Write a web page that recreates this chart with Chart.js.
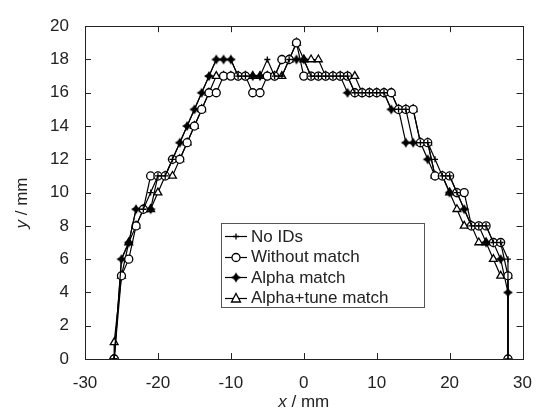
<!DOCTYPE html>
<html>
<head>
<meta charset="utf-8">
<script src="https://cdn.jsdelivr.net/npm/chart.js@4.4.0/dist/chart.umd.min.js"></script>
<style>
  html, body { margin: 0; padding: 0; background: #fff; }
  #wrap { width: 546px; height: 414px; }
</style>
</head>
<body>
<div id="wrap"><canvas id="profile-chart" width="546" height="414"></canvas></div>
<script>
// x positions (mm), shared by all four series; ends are doubled for the drop to zero
const xVals = [-26, -26, -25, -24, -23, -22, -21, -20, -19, -18, -17, -16, -15, -14, -13, -12, -11, -10, -9, -8,
  -7, -6, -5, -4, -3, -2, -1, 0, 1, 2, 3, 4, 5, 6, 7, 8, 9, 10, 11, 12,
  13, 14, 15, 16, 17, 18, 19, 20, 21, 22, 23, 24, 25, 26, 27, 28, 28];

// y values (mm)
const noIds = [0, 0, 6, 7, 9, 9, 10, 11, 11, 12, 13, 14, 15, 16, 17, 18, 18, 18, 17, 17,
  17, 17, 18, 17, 17, 18, 18, 18, 17, 17, 17, 17, 17, 17, 16, 16, 16, 16, 16, 15,
  15, 15, 13, 13, 13, 12, 11, 11, 10, 9, 8, 8, 8, 7, 7, 6, 0];
const withoutMatch = [0, 0, 5, 6, 8, 9, 11, 11, 11, 12, 12, 13, 14, 15, 16, 16, 17, 17, 17, 17,
  16, 16, 17, 17, 18, 18, 19, 17, 17, 17, 17, 17, 17, 17, 16, 16, 16, 16, 16, 16,
  15, 15, 15, 13, 13, 11, 11, 11, 10, 10, 8, 8, 8, 7, 7, 5, 0];
const alphaMatch = [0, 0, 6, 7, 9, 9, 9, 11, 11, 12, 13, 14, 15, 16, 17, 18, 18, 18, 17, 17,
  17, 17, 17, 17, 18, 18, 18, 18, 17, 17, 17, 17, 17, 16, 16, 16, 16, 16, 16, 15,
  15, 13, 13, 13, 12, 11, 11, 10, 10, 9, 8, 8, 7, 7, 6, 4, 0];
const alphaTune = [0, 1, 5, 7, 8, 9, 9, 10, 11, 11, 12, 13, 14, 15, 16, 17, 17, 17, 17, 17,
  17, 17, 17, 17, 17, 18, 19, 18, 18, 18, 17, 17, 17, 17, 17, 16, 16, 16, 16, 16,
  15, 15, 15, 13, 13, 11, 11, 10, 9, 8, 8, 7, 7, 6, 5, 5, 0];

const seriesNames = ["No IDs", "Without match", "Alpha match", "Alpha+tune match"];
const xTicks = [-30, -20, -10, 0, 10, 20, 30];
const yTicks = [0, 2, 4, 6, 8, 10, 12, 14, 16, 18, 20];

const FONT = "'Liberation Sans', Arial, sans-serif";

// filled four point star for the alpha match markers
function makeStar(r) {
  const c = document.createElement('canvas');
  c.width = c.height = r * 2 + 2;
  const g = c.getContext('2d');
  const m = r + 1, k = r * 0.38;
  g.fillStyle = '#000';
  g.beginPath();
  g.moveTo(m, m - r);
  g.lineTo(m + k, m - k);
  g.lineTo(m + r, m);
  g.lineTo(m + k, m + k);
  g.lineTo(m, m + r);
  g.lineTo(m - k, m + k);
  g.lineTo(m - r, m);
  g.lineTo(m - k, m - k);
  g.closePath();
  g.fill();
  return c;
}
const starImg = makeStar(5);

function toPoints(ys) {
  return xVals.map((x, i) => ({ x: x, y: ys[i] }));
}

function lineSet(label, ys, style, radius) {
  return {
    label: label,
    data: toPoints(ys),
    borderColor: '#000',
    borderWidth: 1.2,
    backgroundColor: '#fff',
    pointBorderColor: '#000',
    pointBackgroundColor: '#fff',
    pointStyle: style,
    pointRadius: radius,
    pointBorderWidth: 1.3,
    tension: 0,
    fill: false
  };
}

const datasets = [
  lineSet(seriesNames[0], noIds, 'cross', 3),
  lineSet(seriesNames[1], withoutMatch, 'circle', 4),
  lineSet(seriesNames[2], alphaMatch, starImg, 5),
  lineSet(seriesNames[3], alphaTune, 'triangle', 4.5)
];

function drawMarker(ctx, kind, cx, cy) {
  ctx.save();
  ctx.strokeStyle = '#000';
  ctx.fillStyle = '#fff';
  ctx.lineWidth = 1.3;
  if (kind === 0) {
    ctx.beginPath();
    ctx.moveTo(cx - 3, cy); ctx.lineTo(cx + 3, cy);
    ctx.moveTo(cx, cy - 3); ctx.lineTo(cx, cy + 3);
    ctx.stroke();
  } else if (kind === 1) {
    ctx.beginPath();
    ctx.arc(cx, cy, 4, 0, Math.PI * 2);
    ctx.fill(); ctx.stroke();
  } else if (kind === 2) {
    ctx.drawImage(starImg, cx - starImg.width / 2, cy - starImg.height / 2);
  } else {
    ctx.beginPath();
    ctx.moveTo(cx, cy - 5);
    ctx.lineTo(cx + 4.5, cy + 3.5);
    ctx.lineTo(cx - 4.5, cy + 3.5);
    ctx.closePath();
    ctx.fill(); ctx.stroke();
  }
  ctx.restore();
}

// frame, inward ticks, axis titles and the boxed legend
const framePlugin = {
  id: 'frame',
  afterDraw(chart) {
    const ctx = chart.ctx;
    const a = chart.chartArea;
    const xs = chart.scales.x, ys = chart.scales.y;
    ctx.save();
    ctx.strokeStyle = '#222';
    ctx.lineWidth = 1;
    ctx.strokeRect(Math.round(a.left) + 0.5, Math.round(a.top) + 0.5,
      Math.round(a.right - a.left), Math.round(a.bottom - a.top));
    ctx.beginPath();
    xTicks.forEach(v => {
      const p = Math.round(xs.getPixelForValue(v)) + 0.5;
      ctx.moveTo(p, a.bottom); ctx.lineTo(p, a.bottom - 6);
      ctx.moveTo(p, a.top); ctx.lineTo(p, a.top + 6);
    });
    yTicks.forEach(v => {
      const p = Math.round(ys.getPixelForValue(v)) + 0.5;
      ctx.moveTo(a.left, p); ctx.lineTo(a.left + 6, p);
      ctx.moveTo(a.right, p); ctx.lineTo(a.right - 6, p);
    });
    ctx.stroke();

    // axis titles
    ctx.fillStyle = '#222';
    ctx.textBaseline = 'middle';
    const midX = (a.left + a.right) / 2;
    ctx.font = 'italic 17px ' + FONT;
    const wx = ctx.measureText('x').width;
    ctx.font = '17px ' + FONT;
    const wr = ctx.measureText(' / mm').width;
    let sx = midX - (wx + wr) / 2;
    ctx.textAlign = 'left';
    ctx.font = 'italic 17px ' + FONT;
    ctx.fillText('x', sx, 402);
    ctx.font = '17px ' + FONT;
    ctx.fillText(' / mm', sx + wx, 402);

    ctx.save();
    ctx.translate(22, 203);
    ctx.rotate(-Math.PI / 2);
    ctx.font = 'italic 17px ' + FONT;
    const wy = ctx.measureText('y').width;
    ctx.font = '17px ' + FONT;
    sx = -(wy + wr) / 2;
    ctx.font = 'italic 17px ' + FONT;
    ctx.fillText('y', sx, 0);
    ctx.font = '17px ' + FONT;
    ctx.fillText(' / mm', sx + wy, 0);
    ctx.restore();

    // legend box
    const bx = 221, by = 223, bw = 203, bh = 84;
    ctx.fillStyle = '#fff';
    ctx.fillRect(bx, by, bw, bh);
    ctx.strokeStyle = '#555';
    ctx.strokeRect(bx + 0.5, by + 0.5, bw, bh);
    ctx.font = '17px ' + FONT;
    ctx.textAlign = 'left';
    seriesNames.forEach((name, i) => {
      const cy = by + 13 + i * 20.5;
      ctx.strokeStyle = '#000';
      ctx.lineWidth = 1.2;
      ctx.beginPath();
      ctx.moveTo(bx + 4, Math.round(cy) + 0.5);
      ctx.lineTo(bx + 26, Math.round(cy) + 0.5);
      ctx.stroke();
      drawMarker(ctx, i, bx + 15, Math.round(cy) + 0.5);
      ctx.fillStyle = '#222';
      ctx.fillText(name, bx + 30, cy + 1);
    });
    ctx.restore();
  }
};

const bgPlugin = {
  id: 'bg',
  beforeDraw(chart) {
    const ctx = chart.ctx;
    ctx.save();
    ctx.fillStyle = '#fff';
    ctx.fillRect(0, 0, chart.width, chart.height);
    ctx.restore();
  }
};

const config = {
  type: 'line',
  data: { datasets: datasets },
  options: {
    responsive: false,
    animation: false,
    layout: { padding: { top: 12, right: 21, left: 0, bottom: 0 } },
    plugins: {
      legend: { display: false },
      tooltip: { enabled: false }
    },
    scales: {
      x: {
        type: 'linear',
        min: -30,
        max: 30,
        afterBuildTicks: s => { s.ticks = xTicks.map(v => ({ value: v })); },
        afterFit: s => { s.height = 55; },
        grid: { display: false, drawTicks: false },
        border: { display: false },
        ticks: { color: '#222', padding: 14, maxRotation: 0, font: { family: FONT, size: 17 } }
      },
      y: {
        type: 'linear',
        min: 0,
        max: 20,
        afterBuildTicks: s => { s.ticks = yTicks.map(v => ({ value: v })); },
        afterFit: s => { s.width = 85; },
        grid: { display: false, drawTicks: false },
        border: { display: false },
        ticks: { color: '#222', padding: 16, font: { family: FONT, size: 17 } }
      }
    }
  },
  plugins: [bgPlugin, framePlugin]
};

const profileChart = new Chart(document.getElementById('profile-chart'), config);
</script>
</body>
</html>
